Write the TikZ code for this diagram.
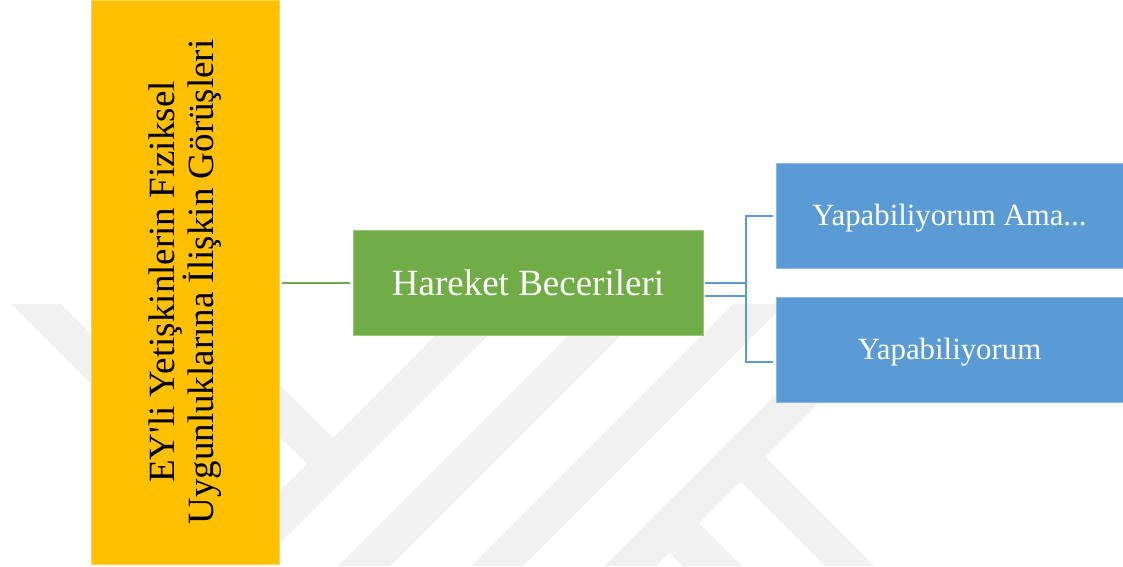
\documentclass[tikz,border=0pt]{standalone}
\usepackage{fontspec}
\setmainfont{Liberation Serif}
% a family without TeX ligature mapping, so the straight apostrophe stays straight
\newfontfamily\tmsfont{Liberation Serif}
\definecolor{smOrange}{HTML}{FFC000}
\definecolor{smGreen}{HTML}{70AD47}
\definecolor{smBlue}{HTML}{5B9BD5}
\definecolor{wmGray}{RGB}{241,241,241}

\begin{document}
\begin{tikzpicture}[x=1pt,y=-1pt,
  box/.style={rectangle, inner sep=0pt, line width=0.8pt},
  rootbox/.style={box, fill=smOrange, draw=smOrange!70!white, text=black,
    font=\tmsfont\fontsize{37pt}{38.3pt}\selectfont, align=center},
  midbox/.style={box, fill=smGreen, draw=smGreen!70!white, text=white,
    font=\tmsfont\fontsize{37pt}{38.3pt}\selectfont, text height=33pt, text depth=8pt},
  leafbox/.style={box, fill=smBlue, draw=smBlue!70!white, text=white,
    font=\tmsfont\fontsize{30.8pt}{36pt}\selectfont, text height=27.4pt, text depth=6.65pt},
  greenlink/.style={draw=smGreen, line width=2pt},
  bluelink/.style={draw=smBlue, line width=2pt},
  wmband/.style={fill=wmGray}
]
\useasboundingbox (0,0) rectangle (1123,566);

% faint background emblem made of diagonal bands
\begin{scope}
  \clip (0,0) rectangle (1123,566);
  \fill[wmband] (11,304) -- (61,304) -- (264,507) -- (467,304) -- (519,304) -- (265,558) -- cycle;
  \fill[wmband] (150,255) -- (342.5,447.5) -- (316.5,473.5) -- (150,307) -- cycle;
  \fill[wmband] (600,304) -- (652,304) -- (390,566) -- (338,566) -- cycle;
  \fill[wmband] (733,304) -- (785,304) -- (523,566) -- (471,566) -- cycle;
  \fill[wmband] (866,304) -- (918,304) -- (656,566) -- (604,566) -- cycle;
  \fill[wmband] (739,431) -- (874,566) -- (825,566) -- (714.5,455.5) -- cycle;
  \fill[wmband] (673,497) -- (742,566) -- (683,566) -- (643.5,526.5) -- cycle;
\end{scope}

% hierarchy boxes
\node[rootbox, rotate=90, minimum width=564pt, minimum height=188pt] (root) at (185,282)
  {EY'li Yetişkinlerin Fiziksel\\Uygunluklarına İlişkin Görüşleri};
\node[midbox, minimum width=350pt, minimum height=105pt] (skill) at (528,282.5) {Hareket Becerileri};
\node[leafbox, minimum width=347pt, minimum height=105pt] (yesbut) at (949.5,215.5) {Yapabiliyorum Ama...};
\node[leafbox, minimum width=347pt, minimum height=105pt] (yes) at (949.5,349.5) {Yapabiliyorum};

% connectors
\draw[greenlink, shorten <=3pt, shorten >=3pt] (root.south |- skill.west) -- (skill.west);
\draw[bluelink] ([xshift=2pt]skill.east) -- ++(41,0) |- ([xshift=-3pt,yshift=-12.5pt]yes.west);
\draw[bluelink] ([xshift=2pt,yshift=-13.5pt]skill.east) -- ++(41,0) |- ([xshift=-3pt]yesbut.west);
\end{tikzpicture}
\end{document}
